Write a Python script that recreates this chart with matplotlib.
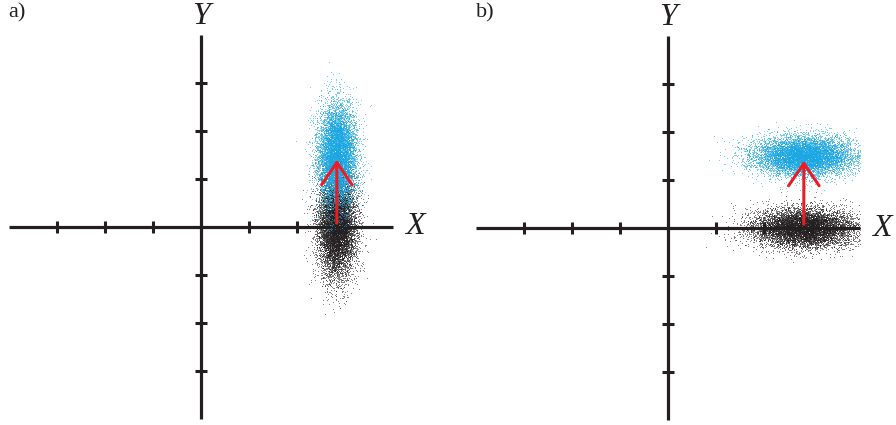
import numpy as np
import matplotlib.pyplot as plt
from matplotlib.patches import FancyArrowPatch

plt.rcParams['font.family'] = ['Liberation Serif', 'DejaVu Serif']

# Valores (unidades = separacion entre marcas)
panel_labels = ['a)', 'b)']
tick_values = [-3, -2, -1, 1, 2, 3]
axis_limit = 4.0

cloud_center_x = 2.83
black_center_y = 0.0
blue_center_y = 1.5
arrow_start_y = 0.08
arrow_end_y = 1.4

# desviaciones (x, y) de cada nube
spread_a = [0.2, 0.52]
spread_b = [0.52, 0.2]
n_points = 9000

col_axis = '#231f20'
col_black = '#231f20'
col_blue = '#1aa7e2'
col_red = '#ec1c24'

rng = np.random.default_rng(7)


def cloud(cx, cy, spread):
    x = cx + spread[0] * rng.standard_normal(n_points)
    y = cy + spread[1] * rng.standard_normal(n_points)
    return x, y


fig = plt.figure(figsize=(8.96, 4.25), dpi=100)
W, H = 896, 425
boxes = [(9, 419), (476, 420)]   # izquierda, abajo (pixeles)
spreads = [spread_a, spread_b]

for k in range(2):
    left, bottom = boxes[k]
    ax = fig.add_axes([left / W, (H - bottom) / H, 384 / W, 384 / H])
    ax.set_xlim(-axis_limit, axis_limit)
    ax.set_ylim(-axis_limit, axis_limit)
    for side in ['top', 'right']:
        ax.spines[side].set_visible(False)
    for side in ['left', 'bottom']:
        ax.spines[side].set_position('zero')
        ax.spines[side].set_linewidth(2.3)
        ax.spines[side].set_color(col_axis)
        ax.spines[side].set_capstyle('butt')
    ax.set_xticks(tick_values)
    ax.set_yticks(tick_values)
    ax.tick_params(direction='inout', length=8, width=2.2, color=col_axis,
                   labelbottom=False, labelleft=False)
    ax.set_facecolor('none')

    bx, by = cloud(cloud_center_x, black_center_y, spreads[k])
    ux, uy = cloud(cloud_center_x, blue_center_y, spreads[k])
    ax.scatter(bx, by, s=0.3, c=col_black, alpha=0.75, linewidths=0, zorder=3)
    ax.scatter(ux, uy, s=0.3, c=col_blue, alpha=0.75, linewidths=0, zorder=3)

    arrow = FancyArrowPatch((cloud_center_x, arrow_start_y),
                            (cloud_center_x, arrow_end_y),
                            arrowstyle='->,head_length=0.8,head_width=0.55',
                            mutation_scale=20, lw=2.2, color=col_red,
                            shrinkA=0, shrinkB=0, zorder=4)
    ax.add_patch(arrow)

    ax.text(axis_limit + 0.25, 0, 'X', fontsize=23, style='italic',
            color=col_axis, ha='left', va='center', clip_on=False)
    ax.text(0, axis_limit + 0.08, 'Y', fontsize=23, style='italic',
            color=col_axis, ha='center', va='bottom', clip_on=False)

fig.text(8 / W, 1 - 13 / H, panel_labels[0], fontsize=16,
         color=col_axis, va='center')
fig.text(476 / W, 1 - 13 / H, panel_labels[1], fontsize=16,
         color=col_axis, va='center')

fig.savefig('out.png', dpi=100)
